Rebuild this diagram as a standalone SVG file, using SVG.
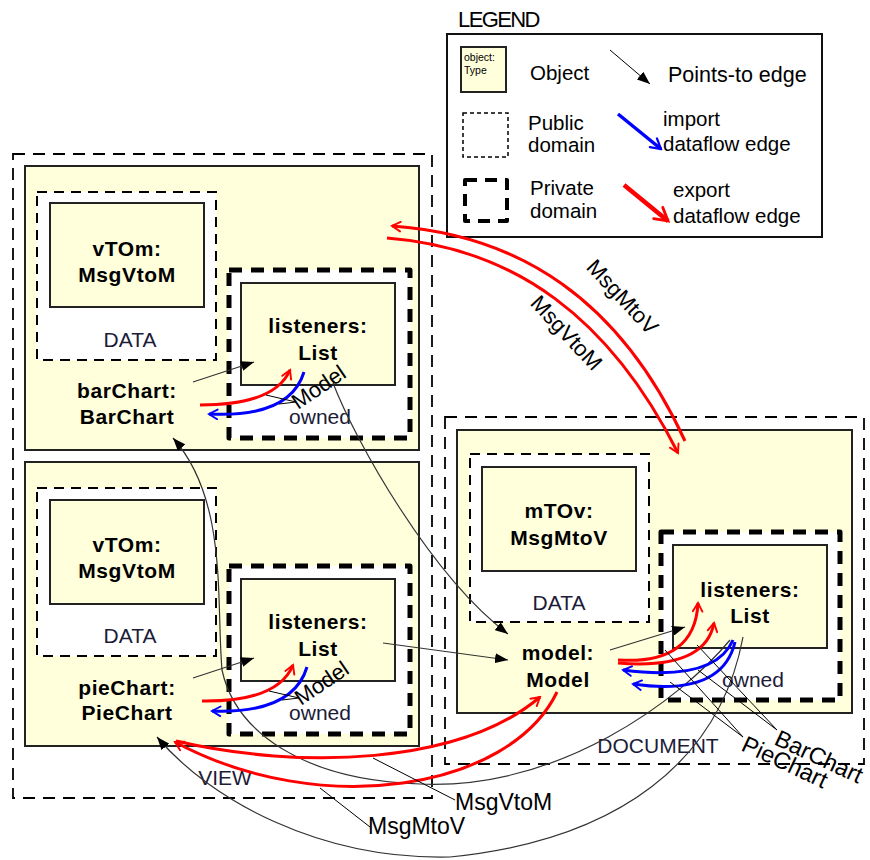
<svg xmlns="http://www.w3.org/2000/svg" width="870" height="860" viewBox="0 0 870 860">
  <style>
    text { font-family: "Liberation Sans", Arial, sans-serif; fill: #000; }
    .obj { fill: #ffffdc; stroke: #222; stroke-width: 2; }
    .objtxt { font-size: 21px; font-weight: bold; text-anchor: middle; letter-spacing: 0.6px; }
    .dom { font-size: 21px; text-anchor: middle; fill: #1c1c38; }
    .pub { fill: #fff; stroke: #000; stroke-width: 2; stroke-dasharray: 10 7; }
    .priv { fill: #fff; stroke: #000; stroke-width: 5; stroke-dasharray: 13 9; stroke-linejoin: round; }
    .outer { fill: none; stroke: #000; stroke-width: 1.8; stroke-dasharray: 12 8; }
    .ptA { fill: none; stroke: #333; stroke-width: 1.2; marker-end: url(#head); }
    .lead { fill: none; stroke: #000; stroke-width: 1; }
    .expA { fill: none; stroke: #f00; stroke-width: 3; marker-end: url(#openRed); }
    .impA { fill: none; stroke: #00f; stroke-width: 3; marker-end: url(#openBlue); }
    .lbl { font-size: 22px; }
    .leg { font-size: 20.5px; }
  </style>
  <defs>
    <marker id="head" viewBox="0 0 13 10" markerUnits="userSpaceOnUse" markerWidth="13" markerHeight="10" refX="13" refY="5" orient="auto">
      <path d="M0,0 L13,5 L0,10 z" fill="#000"/>
    </marker>
    <marker id="openRed" viewBox="0 0 10 10" markerWidth="4" markerHeight="4" refX="8.5" refY="5" orient="auto">
      <path d="M1.5,1 L8.5,5 L1.5,9" fill="none" stroke="#f00" stroke-width="1.6" stroke-linecap="round"/>
    </marker>
    <marker id="openBlue" viewBox="0 0 10 10" markerWidth="4" markerHeight="4" refX="8.5" refY="5" orient="auto">
      <path d="M1.5,1 L8.5,5 L1.5,9" fill="none" stroke="#00f" stroke-width="1.6" stroke-linecap="round"/>
    </marker>
  </defs>

  <rect width="870" height="860" fill="#fff"/>

  <!-- Legend -->
  <g id="legend">
    <text x="458" y="27" style="font-size:22px; letter-spacing:-1.6px">LEGEND</text>
    <rect x="447" y="34" width="375" height="203" fill="#fff" stroke="#111" stroke-width="2"/>
    <rect x="461" y="47" width="45" height="45" class="obj"/>
    <text x="464" y="61" style="font-size:10.5px">object:</text>
    <text x="464" y="74" style="font-size:10.5px">Type</text>
    <text x="530" y="80" class="leg">Object</text>
    <line x1="610" y1="50" x2="650" y2="84" stroke="#000" stroke-width="1" marker-end="url(#head)"/>
    <text x="668" y="82" style="font-size:21.5px">Points-to edge</text>
    <rect x="463" y="113" width="45" height="44" fill="#fff" stroke="#000" stroke-width="1.5" stroke-dasharray="4 3"/>
    <text x="528" y="130" class="leg">Public</text>
    <text x="528" y="152" class="leg">domain</text>
    <line x1="618" y1="114" x2="661" y2="149" stroke="#00f" stroke-width="3.5" marker-end="url(#openBlue)"/>
    <text x="663" y="126" class="leg">import</text>
    <text x="663" y="151" class="leg">dataflow edge</text>
    <rect x="465" y="180" width="42" height="41" fill="#fff" stroke="#000" stroke-width="4" stroke-dasharray="12 8" stroke-linejoin="round"/>
    <text x="530" y="195" class="leg">Private</text>
    <text x="530" y="218" class="leg">domain</text>
    <line x1="624" y1="185" x2="668" y2="221" stroke="#f00" stroke-width="4.5" marker-end="url(#openRed)"/>
    <text x="673" y="197" class="leg">export</text>
    <text x="673" y="223" class="leg">dataflow edge</text>
  </g>

  <!-- VIEW domain -->
  <g id="view">
    <rect x="13" y="154" width="419" height="644" class="outer"/>
    <text x="225" y="785" class="dom">VIEW</text>
  </g>

  <!-- barChart: BarChart -->
  <g id="barChart">
    <rect x="25" y="166" width="394" height="284" class="obj"/>
    <rect x="37" y="192" width="179" height="168" class="pub"/>
    <text x="130" y="347" class="dom">DATA</text>
    <rect x="229" y="270" width="181" height="168" class="priv"/>
    <text x="320" y="424" class="dom">owned</text>
    <text x="127" y="398" class="objtxt">barChart:</text>
    <text x="127" y="424" class="objtxt">BarChart</text>
  </g>
  <g id="barChart-vTOm">
    <rect x="50" y="203" width="154" height="104" class="obj"/>
    <text x="127" y="256" class="objtxt">vTOm:</text>
    <text x="127" y="282" class="objtxt">MsgVtoM</text>
  </g>
  <g id="barChart-listeners">
    <rect x="241" y="283" width="154" height="102" class="obj"/>
    <text x="318" y="333" class="objtxt">listeners:</text>
    <text x="318" y="360" class="objtxt">List</text>
  </g>

  <!-- pieChart: PieChart -->
  <g id="pieChart">
    <rect x="25" y="462" width="394" height="284" class="obj"/>
    <rect x="37" y="488" width="179" height="168" class="pub"/>
    <text x="130" y="643" class="dom">DATA</text>
    <rect x="229" y="566" width="181" height="168" class="priv"/>
    <text x="320" y="720" class="dom">owned</text>
    <text x="127" y="695" class="objtxt">pieChart:</text>
    <text x="127" y="720" class="objtxt">PieChart</text>
  </g>
  <g id="pieChart-vTOm">
    <rect x="50" y="500" width="154" height="104" class="obj"/>
    <text x="127" y="552" class="objtxt">vTOm:</text>
    <text x="127" y="578" class="objtxt">MsgVtoM</text>
  </g>
  <g id="pieChart-listeners">
    <rect x="241" y="579" width="154" height="102" class="obj"/>
    <text x="318" y="629" class="objtxt">listeners:</text>
    <text x="318" y="656" class="objtxt">List</text>
  </g>

  <!-- DOCUMENT domain -->
  <g id="document">
    <rect x="445" y="417" width="419" height="347" class="outer"/>
    <text x="658" y="753" class="dom">DOCUMENT</text>
  </g>

  <!-- model: Model -->
  <g id="model">
    <rect x="457" y="430" width="395" height="283" class="obj"/>
    <rect x="470" y="454" width="179" height="168" class="pub"/>
    <text x="559" y="610" class="dom">DATA</text>
    <rect x="661" y="532" width="179" height="168" class="priv"/>
    <text x="753" y="687" class="dom">owned</text>
    <text x="558" y="660" class="objtxt">model:</text>
    <text x="558" y="687" class="objtxt">Model</text>
  </g>
  <g id="model-mTOv">
    <rect x="482" y="467" width="154" height="104" class="obj"/>
    <text x="559" y="518" class="objtxt">mTOv:</text>
    <text x="559" y="545" class="objtxt">MsgMtoV</text>
  </g>
  <g id="model-listeners">
    <rect x="673" y="545" width="154" height="103" class="obj"/>
    <text x="750" y="597" class="objtxt">listeners:</text>
    <text x="750" y="623" class="objtxt">List</text>
  </g>

  <!-- Connectors -->
  <g id="connectors">
    <!-- points-to edges -->
    <line x1="193" y1="382" x2="254" y2="362" class="ptA"/>
    <line x1="193" y1="678" x2="254" y2="658" class="ptA"/>
    <line x1="610" y1="650" x2="685" y2="627" class="ptA"/>
    <line x1="383" y1="643" x2="508" y2="660" class="ptA"/>
    <path d="M333,383 C355,440 430,575 508,634" class="ptA"/>
    <path d="M730,640 C680,700 560,790 420,784 C300,780 235,730 222,670 C216,600 228,500 173,438" class="ptA"/>
    <path d="M743,637 C720,760 620,840 450,857 C320,860 210,800 157,737" class="ptA"/>

    <!-- barChart <-> listeners dataflow -->
    <path d="M200,405 Q275,405 290,370" class="expA"/>
    <path d="M304,372 Q290,418 209,414" class="impA"/>
    <path d="M266,395 L296,402 L279,404" class="lead"/>
    <text x="298" y="410" class="lbl" transform="rotate(-34 298 410)">Model</text>

    <!-- pieChart <-> listeners dataflow -->
    <path d="M202,701 Q278,702 293,665" class="expA"/>
    <path d="M307,667 Q293,714 212,711" class="impA"/>
    <path d="M269,691 L299,698 L282,700" class="lead"/>
    <text x="301" y="706" class="lbl" transform="rotate(-34 301 706)">Model</text>

    <!-- model <-> listeners dataflow -->
    <path d="M618,660 Q695,665 698,603" class="expA"/>
    <path d="M618,663 Q705,670 714,623" class="expA"/>
    <path d="M733,640 Q715,682 623,670" class="impA"/>
    <path d="M735,642 Q722,697 633,684" class="impA"/>
    <path d="M665,650 L743,737 L670,682" class="lead"/>
    <path d="M697,645 L777,730 L698,670" class="lead"/>
    <text x="740" y="750" style="font-size:23.5px" transform="rotate(25 740 750)">PieChart</text>
    <text x="773" y="744" style="font-size:23.5px" transform="rotate(25 773 744)">BarChart</text>

    <!-- barChart <-> model messages -->
    <path d="M685,441 C620,300 520,235 392,226" class="expA"/>
    <path d="M387,238 C515,248 610,318 678,453" class="expA"/>
    <text x="617" y="302" class="lbl" text-anchor="middle" transform="rotate(47 617 302)">MsgMtoV</text>
    <text x="561" y="338" class="lbl" text-anchor="middle" transform="rotate(47 561 338)">MsgVtoM</text>

    <!-- pieChart <-> model messages -->
    <path d="M176,741 C300,770 460,765 540,697" class="expA"/>
    <path d="M557,692 C510,790 320,820 175,742" class="expA"/>
    <line x1="373" y1="758" x2="455" y2="800" class="lead"/>
    <line x1="320" y1="788" x2="370" y2="827" class="lead"/>
    <text x="455" y="810" style="font-size:23px">MsgVtoM</text>
    <text x="368" y="834" style="font-size:23px">MsgMtoV</text>
  </g>
</svg>
